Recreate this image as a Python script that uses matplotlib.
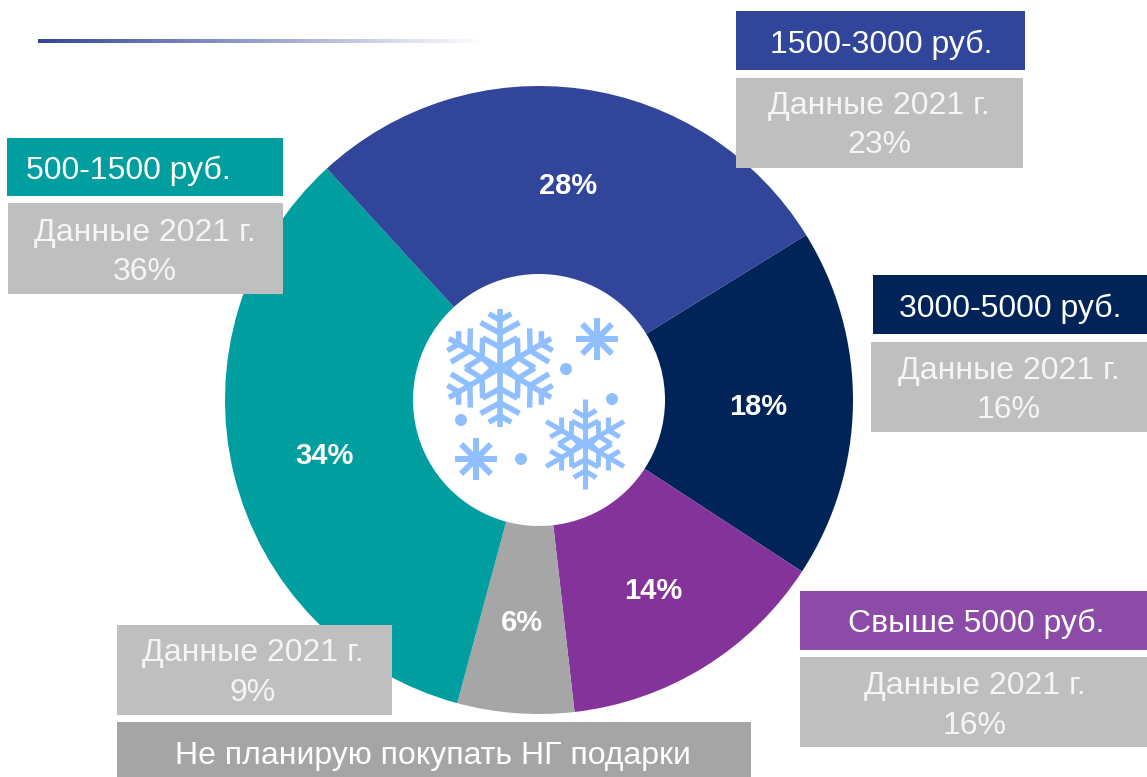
import numpy as np
import matplotlib.pyplot as plt
from matplotlib.colors import to_rgb
from matplotlib.patches import Rectangle, Circle

plt.rcParams['font.family'] = ['Liberation Sans', 'DejaVu Sans']

W, H = 1147, 777

# data, clockwise starting at the upper right
shares = [18, 14, 6, 34, 28]
colors = ['#002457', '#833399', '#A6A6A6', '#009E9E', '#31459B']
start_angle = 31.7

groups = ['3000-5000 руб.', 'Свыше 5000 руб.', 'Не планирую покупать НГ подарки', '500-1500 руб.', '1500-3000 руб.']
group_colors = ['#002457', '#8B4BA6', '#A5A5A5', '#009E9E', '#31459B']
prev_year = ['Данные 2021 г.\n16%', 'Данные 2021 г.\n16%', 'Данные 2021 г.\n9%', 'Данные 2021 г.\n36%', 'Данные 2021 г.\n23%']

# box pixel positions (left, top, right, bottom), same order as groups
group_boxes = [(873, 275, 1147, 334), (800, 591, 1147, 650), (117, 722, 751, 777), (7, 138, 283, 196), (736, 11, 1025, 70)]
prev_boxes = [(871, 342, 1147, 432), (800, 657, 1147, 747), (117, 625, 392, 715), (8, 203, 283, 294), (736, 78, 1023, 168)]
group_text_pos = [(1010, 307), (976, 622), (433, 754), (128, 169), (881, 43)]
prev_text_pos = [(1009, 388.5), (975, 704), (253, 671), (145, 250.5), (879, 123.5)]

flake_blue = '#90BFFF'


def py(y):
	# image pixel row to axes y
	return H - y


def draw_box(box, color):
	x0, y0, x1, y1 = box
	ax.add_patch(Rectangle((x0, py(y1)), x1 - x0, y1 - y0, facecolor=color, edgecolor='none', zorder=3))


def seg(x, y, p0, p1, lw):
	ax.plot([x + p0[0], x + p1[0]], [py(y) + p0[1], py(y) + p1[1]], color=flake_blue, lw=lw,
		solid_capstyle='butt', solid_joinstyle='miter', zorder=4)


def polar(r, deg):
	# deg is measured clockwise from straight up
	a = np.radians(deg)
	return r * np.sin(a), r * np.cos(a)


def draw_flake(x, y, R, lw, branches):
	"""
	six arm snowflake with a star in the middle
	"""
	for k in range(6):
		arm = 60 * k
		seg(x, y, (0, 0), polar(R, arm), lw)

		for base, along, side in branches:
			p = polar(base * R, arm)
			for sign in [-1, 1]:
				q = polar(np.hypot(along, side) * R, arm + sign * np.degrees(np.arctan2(side, along)))
				seg(x, y, p, q, lw)

		# star outline between the arms
		for sign in [-1, 1]:
			seg(x, y, polar(0.35 * R, arm), polar(0.59 * R, arm + sign * 30), lw)

	# inner diamonds left and right
	for sign in [-1, 1]:
		for off in [-30, 30]:
			seg(x, y, polar(0.35 * R, sign * (90 + off)), polar(0.12 * R, sign * 90), lw)


def draw_star(x, y, r, lw):
	for k in range(8):
		seg(x, y, (0, 0), polar(r, 45 * k), lw)


fig = plt.figure(figsize=(W / 100, H / 100), dpi=100)
ax = fig.add_axes([0, 0, 1, 1])

wedges, _, pct_texts = ax.pie(shares, colors=colors, startangle=start_angle, counterclock=False,
	center=(539, py(400)), radius=314, wedgeprops=dict(width=188),
	autopct=lambda p: '%.0f%%' % p, pctdistance=0.70,
	textprops=dict(color='white', fontsize=21, fontweight='bold'))

# the labels sit a little lower than the exact middle
for t in pct_texts:
	tx, ty = t.get_position()
	t.set_position((tx - 1, ty - 4))

# gradient line at the top left
fade = np.ones((1, 256, 4))
fade[..., :3] = to_rgb('#31459B')
fade[..., 3] = np.linspace(1, 0, 256)
ax.imshow(fade, extent=(38, 485, py(43), py(39)), aspect='auto', zorder=2)

for box, color, name, pos in zip(group_boxes, group_colors, groups, group_text_pos):
	draw_box(box, color)
	ax.text(pos[0], py(pos[1] + 2), name, color='white', fontsize=23, ha='center', va='center', zorder=5)

for box, label, pos in zip(prev_boxes, prev_year, prev_text_pos):
	draw_box(box, '#BFBFBF')
	ax.text(pos[0], py(pos[1] + 2), label, color='#F5F5F5', fontsize=23, ha='center', va='center',
		linespacing=1.4, zorder=5)

# snowflakes in the hole
draw_flake(500, 368, 59, 4.0, [(0.59, 0.77, 0.33), (0.81, 0.92, 0.19)])
draw_flake(585, 444, 45, 3.6, [(0.6, 0.745, 0.25)])
draw_star(597, 339, 21, 4.3)
draw_star(476, 459, 21, 4.3)
for dx, dy in [(566, 369), (461, 420), (612, 399), (521, 459)]:
	ax.add_patch(Circle((dx, py(dy)), 6, facecolor=flake_blue, edgecolor='none', zorder=4))

ax.set_xlim(0, W)
ax.set_ylim(0, H)
ax.set_aspect('equal')
ax.axis('off')

plt.savefig('out.png', dpi=100)
plt.close()
